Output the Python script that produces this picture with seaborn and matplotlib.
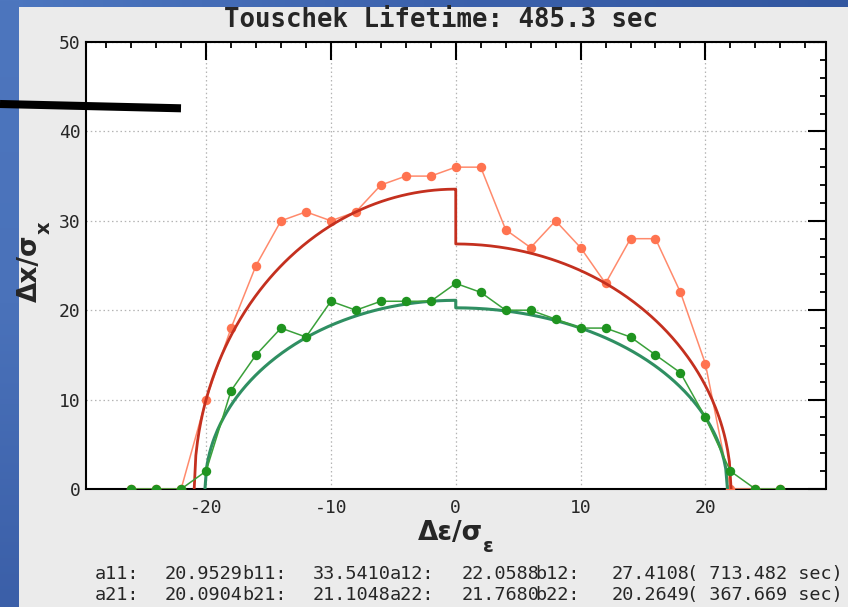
import numpy as np
import pandas as pd
import matplotlib
matplotlib.use("Agg")
import matplotlib.pyplot as plt
from matplotlib.lines import Line2D
from matplotlib.colors import LinearSegmentedColormap
from matplotlib.ticker import MultipleLocator
import seaborn as sns

# Energy offsets scanned (in units of sigma_eps)
eps_offsets = [-26, -24, -22, -20, -18, -16, -14, -12, -10, -8, -6, -4, -2,
               0, 2, 4, 6, 8, 10, 12, 14, 16, 18, 20, 22, 24, 26]
# Measured horizontal aperture (in units of sigma_x), two tracking cases
aperture_case1 = [0, 0, 0, 10, 18, 25, 30, 31, 30, 31, 34, 35, 35,
                  36, 36, 29, 27, 30, 27, 23, 28, 28, 22, 14, 0, 0, 0]
aperture_case2 = [0, 0, 0, 2, 11, 15, 18, 17, 21, 20, 21, 21, 21,
                  23, 22, 20, 20, 19, 18, 18, 17, 15, 13, 8, 2, 0, 0]

# Half-ellipse fit parameters: negative side (a?1, b?1), positive side (a?2, b?2)
fit_names_a = [["a11", "a12"], ["a21", "a22"]]
fit_names_b = [["b11", "b12"], ["b21", "b22"]]
fit_a = [[20.9529, 22.0588], [20.0904, 21.7680]]
fit_b = [[33.5410, 27.4108], [21.1048, 20.2649]]
case_lifetimes = [713.482, 367.669]
total_lifetime = 485.3

W, H, DPI = 848, 607, 100
BG = "#ebebeb"

sns.set_style("white")
plt.rcParams["axes.unicode_minus"] = False

fig = plt.figure(figsize=(W / DPI, H / DPI), dpi=DPI, facecolor=BG)


def px(x, y):
    return x / W, 1 - y / H


# slide frame: blue strips along the left and top edges
frame_ax = fig.add_axes([0, 0, 1, 1], zorder=-10)
frame_ax.set_facecolor(BG)
frame_ax.axis("off")
frame_ax.imshow(np.linspace(0, 1, 256)[None, :], extent=(0, W, 7, 0), aspect="auto",
                cmap=LinearSegmentedColormap.from_list(
                    "top", ["#4d77c0", "#3c62ad", "#3257a0"]))
frame_ax.imshow(np.linspace(0, 1, 256)[:, None], extent=(0, 18.5, H, 0), aspect="auto",
                cmap=LinearSegmentedColormap.from_list(
                    "left", ["#4d76be", "#4a72ba", "#3b5fa8"]))
frame_ax.set_xlim(0, W)
frame_ax.set_ylim(H, 0)

ax = fig.add_axes([86 / W, 1 - 489 / H, (825.5 - 86) / W, (489 - 42) / H])
ax.set_facecolor("white")


def half_ellipse(a, b, n=160):
    x = np.linspace(-a, 0, n)
    y = b * np.sqrt(np.clip(1 - (x / a) ** 2, 0, None))
    return x, y


def fit_curve(a_pair, b_pair):
    xl, yl = half_ellipse(a_pair[0], b_pair[0])
    xr, yr = half_ellipse(a_pair[1], b_pair[1])
    xr, yr = -xr[::-1], yr[::-1]
    return pd.DataFrame({"x": np.concatenate([xl, xr]), "y": np.concatenate([yl, yr])})


data = pd.DataFrame({"eps": eps_offsets, "dx1": aperture_case1, "dx2": aperture_case2})

# case 1: measured points and fitted curve
sns.lineplot(data=data, x="eps", y="dx1", ax=ax, color="#ff8a6c", linewidth=1.1,
             marker="o", markersize=6.8, markerfacecolor="#ff7350",
             markeredgecolor="#ff7350", markeredgewidth=0, zorder=3)
fit1 = fit_curve(fit_a[0], fit_b[0])
sns.lineplot(data=fit1, x="x", y="y", ax=ax, sort=False, estimator=None,
             color="#c4301f", linewidth=2.0, zorder=4)

# case 2: fitted curve and measured points
fit2 = fit_curve(fit_a[1], fit_b[1])
sns.lineplot(data=fit2, x="x", y="y", ax=ax, sort=False, estimator=None,
             color="#2f8f62", linewidth=2.2, zorder=5)
sns.lineplot(data=data, x="eps", y="dx2", ax=ax, color="#3aa03a", linewidth=1.1,
             marker="o", markersize=6.8, markerfacecolor="#1f9420",
             markeredgecolor="#1f9420", markeredgewidth=0, zorder=6)

ax.set_xlim(-29.62, 29.62)
ax.set_ylim(0, 50)
ax.xaxis.set_major_locator(MultipleLocator(10))
ax.xaxis.set_minor_locator(MultipleLocator(2))
ax.yaxis.set_major_locator(MultipleLocator(10))
ax.yaxis.set_minor_locator(MultipleLocator(2))
ax.grid(True, which="major", color="#b4b4b4", linestyle=(0, (1.2, 2.2)), linewidth=0.9)
ax.set_axisbelow(True)

mono = "DejaVu Sans Mono"
ax.tick_params(which="both", direction="in", top=True, right=True, color="black")
ax.tick_params(which="major", length=13, width=1.5, labelsize=13, pad=4)
ax.tick_params(which="minor", length=4.5, width=1.3)
ax.tick_params(axis="x", which="major", pad=7)
for lab in ax.get_xticklabels() + ax.get_yticklabels():
    lab.set_fontfamily(mono)
for s in ax.spines.values():
    s.set_linewidth(1.5)
    s.set_color("black")

ax.set_xlabel("")
ax.set_ylabel("")

# axis titles: bold main part with a bold subscript attached at its end
renderer = fig.canvas.get_renderer()
xl_main = fig.text(*px(450, 533), "Δε/σ", ha="center", va="center",
                   fontsize=19, fontweight="bold", family="DejaVu Sans")
bb = xl_main.get_window_extent(renderer)
fig.text(bb.x1 / W, bb.y0 / H, "ε", ha="left", va="center",
         fontsize=14, fontweight="bold", family="DejaVu Sans")

yl_main = fig.text(*px(30, 268), "Δx/σ", ha="center", va="center",
                   fontsize=19, fontweight="bold", family="DejaVu Sans", rotation=90)
bb = yl_main.get_window_extent(renderer)
fig.text((bb.x1 + 1) / W, (bb.y1 + 0.5) / H, "x", ha="center", va="bottom",
         fontsize=14, fontweight="bold", family="DejaVu Sans", rotation=90)

fig.text(*px(441, 20), f"Touschek Lifetime: {total_lifetime} sec",
         ha="center", va="center", fontsize=18.5, fontweight="bold", family=mono)

# fit summary lines
label_x = [95, 242, 390, 535]
value_x = [165, 313, 462, 612]
row_y = [574, 595]
for r in range(2):
    items = [(fit_names_a[r][0], fit_a[r][0]), (fit_names_b[r][0], fit_b[r][0]),
             (fit_names_a[r][1], fit_a[r][1]), (fit_names_b[r][1], fit_b[r][1])]
    for (name, val), lx, vx in zip(items, label_x, value_x):
        fig.text(*px(lx, row_y[r]), f"{name}:", ha="left", va="center",
                 fontsize=13.3, family=mono)
        fig.text(*px(vx, row_y[r]), f"{val:.4f}", ha="left", va="center",
                 fontsize=13.3, family=mono)
    fig.text(*px(687, row_y[r]), f"( {case_lifetimes[r]:.3f} sec)", ha="left",
             va="center", fontsize=13.3, family=mono)

# pointer stroke across the upper left
fig.add_artist(Line2D([0, 181 / W], [1 - 104 / H, 1 - 108.3 / H],
                      transform=fig.transFigure, color="black",
                      linewidth=5.8, solid_capstyle="butt", zorder=20))

fig.savefig("out.png", dpi=DPI, facecolor=BG)
